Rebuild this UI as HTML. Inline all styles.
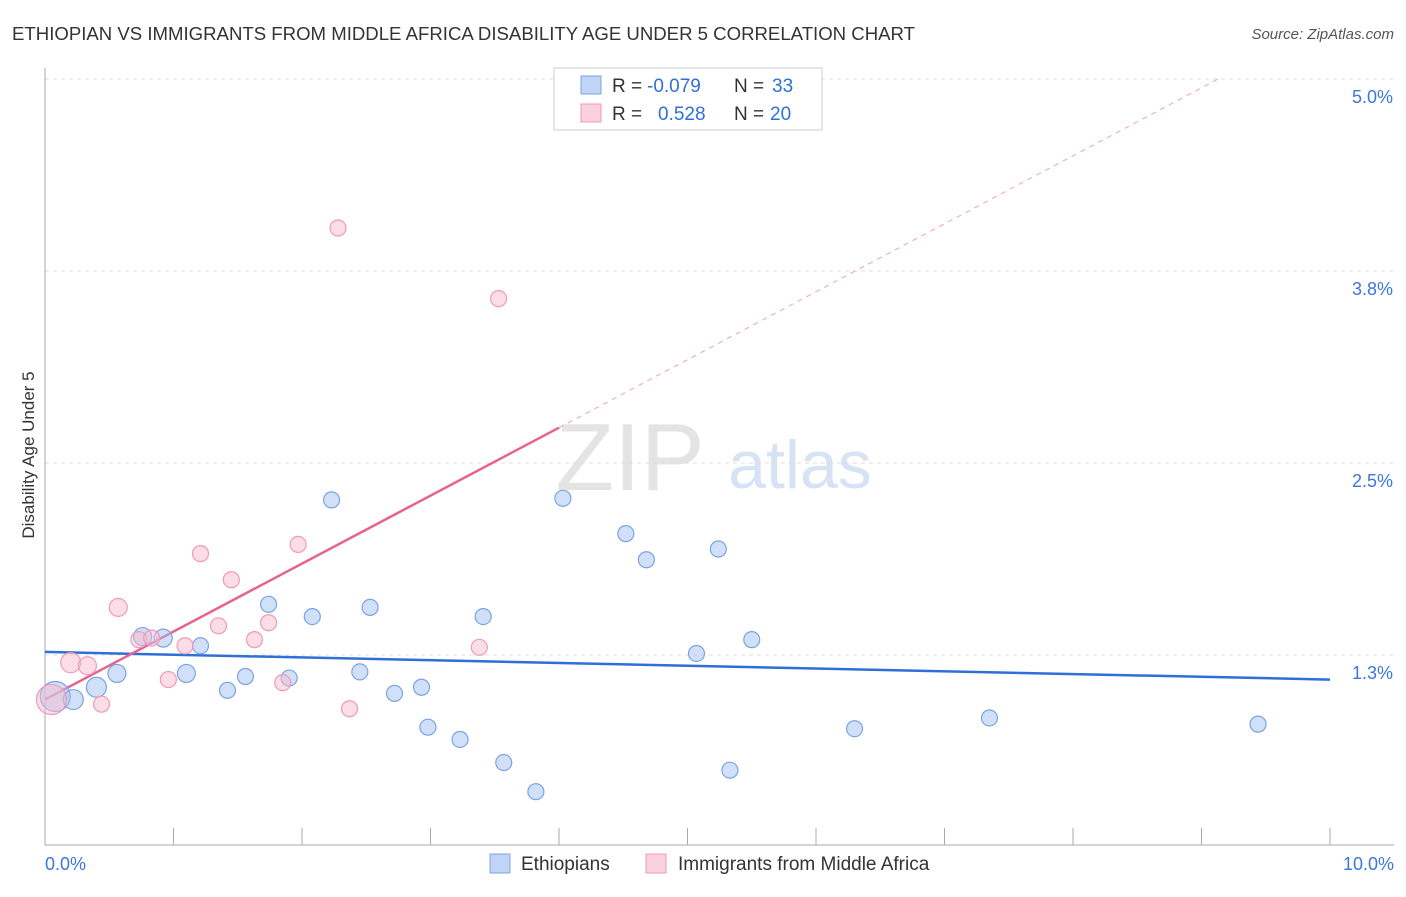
<!DOCTYPE html>
<html><head><meta charset="utf-8"><style>
body{margin:0;background:#fff;font-family:"Liberation Sans",sans-serif;}
svg text{font-family:"Liberation Sans",sans-serif;}
</style></head><body>
<svg id="chart" width="1406" height="892" viewBox="0 0 1406 892" xmlns="http://www.w3.org/2000/svg">
<text x="12" y="40" font-size="18.6" fill="#333">ETHIOPIAN VS IMMIGRANTS FROM MIDDLE AFRICA DISABILITY AGE UNDER 5 CORRELATION CHART</text>
<text x="1394" y="39" font-size="15" fill="#555" text-anchor="end" font-style="italic">Source: ZipAtlas.com</text>
<g>
<text x="630" y="490" font-size="96" fill="#e4e4e4" text-anchor="middle" font-family="Liberation Serif">ZIP</text>
<text x="800" y="488" font-size="68" fill="#d6e3f5" text-anchor="middle">atlas</text>
</g>
<g id="grid"></g>
<g id="axes"></g>
<g id="lines"></g>
<g id="points"></g>
<text transform="translate(34,455) rotate(-90)" font-size="17" fill="#333" text-anchor="middle">Disability Age Under 5</text>
<g>
<rect x="554" y="68" width="268" height="62" fill="#fff" stroke="#ccc"/>
<rect x="581" y="76" width="20" height="18" fill="#a4c2f4" fill-opacity="0.7" stroke="#7ba3e0"/>
<text x="612" y="92" font-size="19" fill="#333">R =</text><text x="647" y="92" font-size="19" fill="#2f6fd6">-0.079</text>
<text x="734" y="92" font-size="19" fill="#333">N =</text><text x="772" y="92" font-size="19" fill="#2f6fd6">33</text>
<rect x="581" y="104" width="20" height="18" fill="#f8bbd0" fill-opacity="0.7" stroke="#f09ab8"/>
<text x="612" y="120" font-size="19" fill="#333">R =</text><text x="658" y="120" font-size="19" fill="#2f6fd6">0.528</text>
<text x="734" y="120" font-size="19" fill="#333">N =</text><text x="770" y="120" font-size="19" fill="#2f6fd6">20</text>
</g>
<g>
<rect x="490" y="854" width="20" height="19" fill="#a4c2f4" fill-opacity="0.7" stroke="#7ba3e0"/>
<text x="521" y="870" font-size="19" fill="#333">Ethiopians</text>
<rect x="646" y="854" width="20" height="19" fill="#f8bbd0" fill-opacity="0.7" stroke="#f09ab8"/>
<text x="678" y="870" font-size="19" fill="#333">Immigrants from Middle Africa</text>
</g>
</svg>
<script>
const xTicks=[0,1,2,3,4,5,6,7,8,9,10];
const yTickVals=[1.25,2.5,3.75,5.0];
const yTickLabels=["1.3%","2.5%","3.8%","5.0%"];
const blueX=[0.08,0.22,0.40,0.56,0.76,0.92,1.10,1.21,1.42,1.56,1.74,1.90,2.08,2.23,2.45,2.53,2.72,2.93,2.98,3.23,3.41,3.57,3.82,4.03,4.52,4.68,5.07,5.24,5.33,5.50,6.30,7.35,9.44];
const blueY=[0.98,0.96,1.04,1.13,1.37,1.36,1.13,1.31,1.02,1.11,1.58,1.10,1.50,2.26,1.14,1.56,1.00,1.04,0.78,0.70,1.50,0.55,0.36,2.27,2.04,1.87,1.26,1.94,0.50,1.35,0.77,0.84,0.80];
const blueR=[15,10,10,9,9,9,9,8,8,8,8,8,8,8,8,8,8,8,8,8,8,8,8,8,8,8,8,8,8,8,8,8,8];
const pinkX=[0.05,0.20,0.33,0.44,0.57,0.73,0.83,0.96,1.09,1.21,1.35,1.45,1.63,1.74,1.85,1.97,2.28,2.37,3.38,3.53];
const pinkY=[0.96,1.20,1.18,0.93,1.56,1.35,1.36,1.09,1.31,1.91,1.44,1.74,1.35,1.46,1.07,1.97,4.03,0.90,1.30,3.57];
const pinkR=[15,10,9,8,9,8,8,8,8,8,8,8,8,8,8,8,8,8,8,8];
const blueLine=[1.27,1.09];
const pinkLine=[0.96,0.4425];
const NS="http://www.w3.org/2000/svg";
const X=v=>45+v*128.5;
const Y=v=>847-v*153.6;
function mk(tag,attrs,parent){const e=document.createElementNS(NS,tag);for(const k in attrs)e.setAttribute(k,attrs[k]);document.getElementById(parent).appendChild(e);return e;}
yTickVals.forEach((v,i)=>{
 const l=mk('line',{x1:45,x2:1394,y1:Y(v),y2:Y(v),stroke:'#ddd','stroke-dasharray':'4,4'},'grid');
 
 
 const t=mk('text',{x:1393,y:Y(v)+24,'font-size':18,fill:'#3b78d8','text-anchor':'end'},'axes');
 t.textContent=yTickLabels[i];
 
 
});
const xa=mk('line',{x1:45,x2:1394,y1:845,y2:845,stroke:'#aaa'},'axes');


const ya=mk('line',{x1:45,x2:45,y1:68,y2:845,stroke:'#aaa'},'axes');


xTicks.forEach(v=>{
 const t=mk('line',{x1:X(v),x2:X(v),y1:828,y2:845,stroke:'#aaa'},'axes');
 
 
});
const l0=mk('text',{x:45,y:870,'font-size':18,fill:'#3b78d8'},'axes');l0.textContent='0.0%';


const l1=mk('text',{x:1394,y:870,'font-size':18,fill:'#3b78d8','text-anchor':'end'},'axes');l1.textContent='10.0%';


const bl=mk('line',{x1:X(0),y1:Y(blueLine[0]),x2:X(10),y2:Y(blueLine[1]),stroke:'#2f6fd6','stroke-width':2.5},'lines');


const pe=4.0;
const pl=mk('line',{x1:X(0),y1:Y(pinkLine[0]),x2:X(pe),y2:Y(pinkLine[0]+pinkLine[1]*pe),stroke:'#e8628f','stroke-width':2.5},'lines');


const xEnd=(5.0-pinkLine[0])/pinkLine[1];
const pd=mk('line',{x1:X(pe),y1:Y(pinkLine[0]+pinkLine[1]*pe),x2:X(xEnd),y2:Y(pinkLine[0]+pinkLine[1]*xEnd),stroke:'#f0a0bc','stroke-width':1,'stroke-dasharray':'5,5'},'lines');


blueX.forEach((v,i)=>{
 const c=mk('circle',{cx:X(v),cy:Y(blueY[i]),r:blueR[i],fill:'#a4c2f4','fill-opacity':0.5,stroke:'#7ba3e0','stroke-width':1.2},'points');
 
 
});
pinkX.forEach((v,i)=>{
 const c=mk('circle',{cx:X(v),cy:Y(pinkY[i]),r:pinkR[i],fill:'#f8bbd0','fill-opacity':0.5,stroke:'#f09ab8','stroke-width':1.2},'points');
 
 
});
</script>
</body></html>
